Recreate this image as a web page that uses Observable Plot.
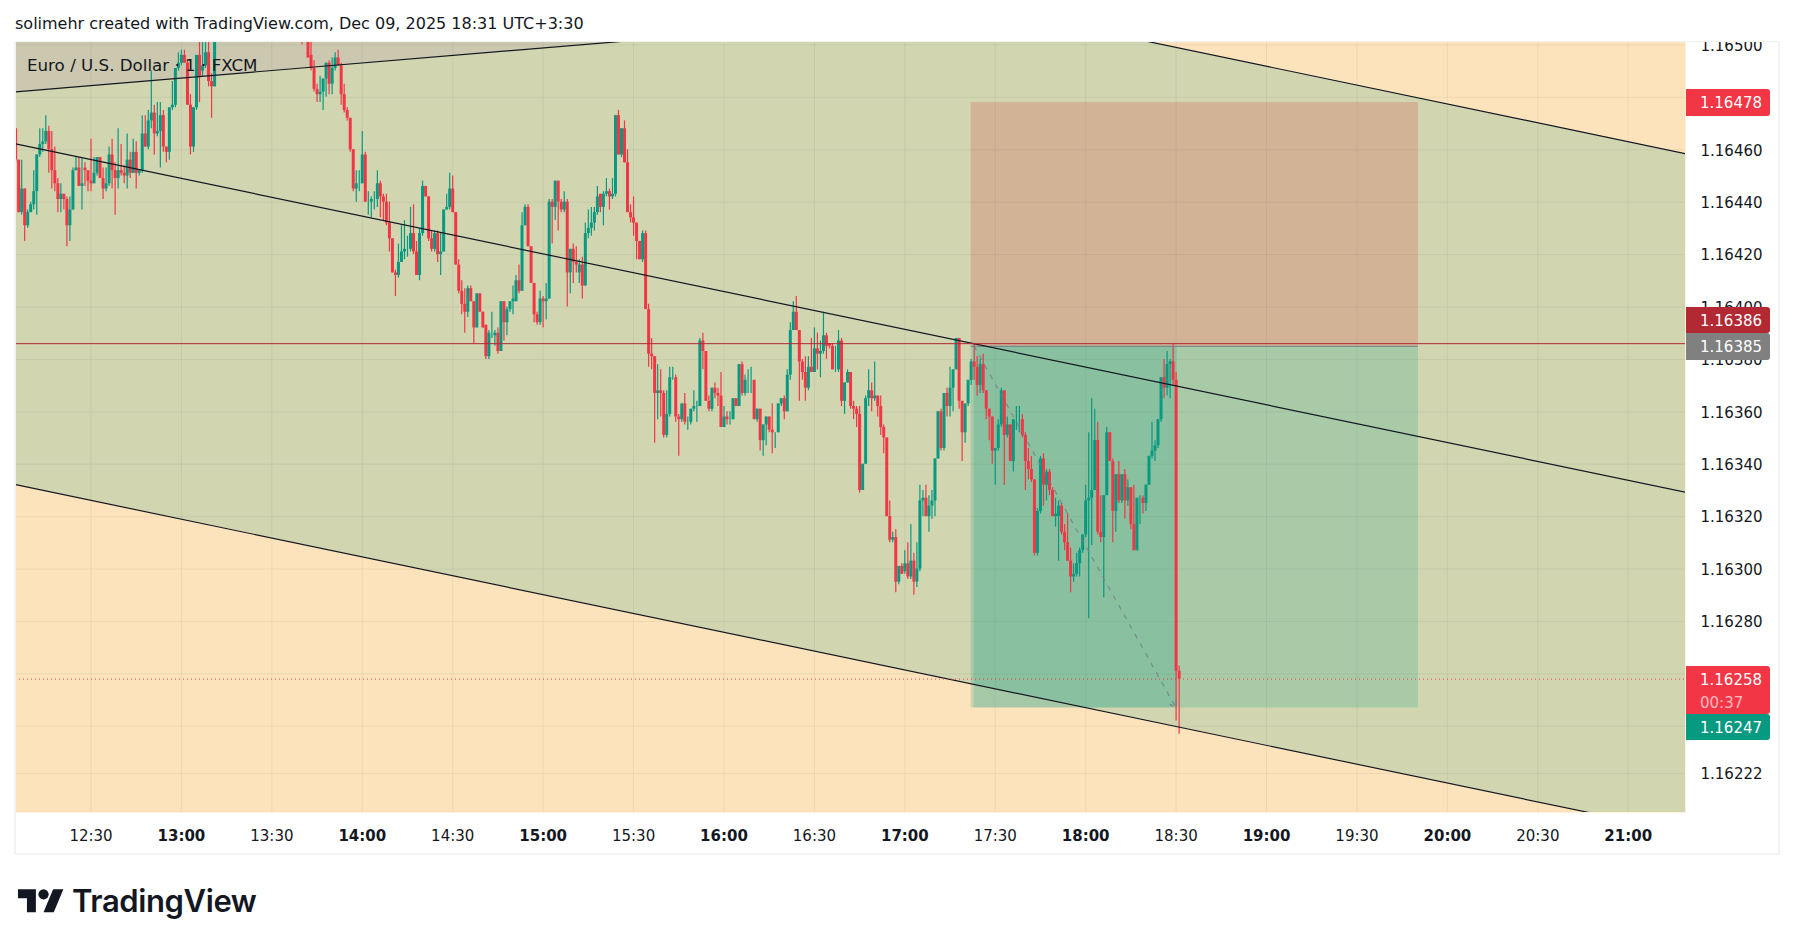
<!DOCTYPE html>
<html>
<head>
<meta charset="utf-8">
<script src="https://cdn.jsdelivr.net/npm/d3@7"></script>
<script src="https://cdn.jsdelivr.net/npm/@observablehq/plot@0.6"></script>
<style>
html,body{margin:0;padding:0;background:#fff;width:1793px;height:944px;overflow:hidden;font-family:"DejaVu Sans",sans-serif;color:#131722}
#chart{position:absolute;left:0;top:0}
#head{position:absolute;left:0;top:0;width:1793px;height:41px;background:#fff;font-size:16px;line-height:47px;text-indent:15px;white-space:pre}
#frame{position:absolute;left:14px;top:41px;width:1762px;height:811px;border:2px solid #F2F3F5;border-top-width:1px;pointer-events:none}
#legend{position:absolute;left:27px;top:56px;font-size:16.7px;line-height:18px}
.tag{position:absolute;left:1686px;width:84px;border-radius:0 3px 3px 0;color:#fff;font-size:15px;line-height:29px;text-indent:14px}
.tag span{display:block;opacity:.65;line-height:16px}
#mark{position:absolute;left:18px;top:884px}
#word{position:absolute;left:72px;top:881px;font-family:Inter,sans-serif;font-weight:600;font-size:31px;line-height:40px;letter-spacing:-.4px;color:#131722}
</style>
</head>
<body>
<div id="chart"></div>
<div id="head">solimehr created with TradingView.com, Dec 09, 2025 18:31 UTC+3:30</div>
<div id="frame"></div>
<div id="legend">Euro / U.S. Dollar · 1 · FXCM</div>
<div id="tags"></div>
<svg id="mark" width="46" height="36" viewBox="0 0 36 28"><path fill="#131722" d="M14 22H7V11H0V4h14v18zM28 22h-8l7.5-18h8L28 22z"></path><circle fill="#131722" cx="20" cy="8" r="4"></circle></svg>
<div id="word">TradingView</div>
<script>
// Candles: [open, high, low, close] in 0.00001 above 1.16000, one bar per minute.
const bars1205 = [[468,468,455,456],[456,456,436,436],[436,456,435,445],[445,445,425,431],[431,437,430,436],[436,440,436,439],[439,452,437,444],[444,458,435,458],[458,468,457,462],[462,468,459,463],[463,473,462,467],[467,469,451,460],[460,467,445,452],[452,461,444,447],[447,449,436,441],[441,447,436,443],[443,443,437,441],[441,442,423,431],[431,442,425,437],[437,453,437,452],[452,457,452,453],[453,457,446,446],[446,457,437,447],[453,455,446,452],[452,452,444,448],[448,464,444,447],[447,457,447,451],[451,457,450,457],[457,457,449,449],[449,453,441,445],[445,453,444,447],[447,461,446,458],[458,464,445,452],[452,455,435,449],[449,468,445,452],[452,462,450,451],[451,454,447,450],[450,466,445,456],[456,459,449,451],[451,464,451,459],[459,463,445,451],[451,452,450,452],[452,473,451,466],[466,473,461,461],[461,475,460,471],[471,490,468,474],[474,477,458,466],[466,478,465,467],[467,478,453,473],[473,475,459,461],[461,461,455,459],[459,476,456,476],[476,486,475,477],[477,491,476,491],[491,497,490,493],[493,498,492,496],[496,498,493,493],[493,494,477,477],[477,481,458,461],[461,476,459,476],[476,496,475,496],[496,505,478,488],[490,505,488,492],[492,505,491,497],[497,505,484,486],[486,489,472,484],[484,510,484,506]];
const bars1340 = [[506,510,500,504],[504,506,501,502],[502,503,495,495],[496,505,490,491],[491,494,482,483],[483,485,478,481],[481,488,478,482],[482,487,475,487],[487,493,480,493],[493,494,481,485],[485,495,481,491],[491,497,490,495],[495,498,492,492],[492,493,477,481],[481,485,474,475],[475,476,471,472],[472,472,459,460],[460,460,444,445],[445,452,440,447],[447,452,444,447],[447,467,447,458],[458,459,440,440],[440,444,435,440],[440,442,434,441],[441,444,437,441],[441,452,438,447],[447,448,434,442],[442,443,433,440],[440,443,431,432],[432,440,421,426],[426,426,413,413],[413,414,404,412],[412,424,411,417],[417,431,417,421],[421,433,418,422],[422,427,419,422],[422,438,421,428],[428,439,420,421],[421,425,412,412],[412,430,410,428],[428,448,427,446],[446,446,442,442],[442,442,425,426],[426,429,421,422],[422,429,421,428],[428,429,417,420],[420,428,412,421],[421,437,421,437],[437,443,437,438],[438,451,437,445],[445,450,436,436],[436,436,416,416],[416,418,405,406],[406,410,397,401],[401,407,390,398],[398,408,396,407],[407,408,402,402],[402,402,386,392],[392,405,392,405],[405,405,398,398],[398,398,392,392],[393,393,380,381],[381,391,380,390],[390,398,388,390],[389,391,385,390],[390,392,382,383],[383,402,383,402],[402,402,387,394],[394,400,389,399],[399,402,398,402],[402,408,397,403],[402,412,402,410],[410,416,405,406],[406,436,406,431],[431,439,431,438],[438,439,423,423],[423,423,409,409],[409,409,394,397],[397,398,393,394],[394,406,393,403],[403,404,392,402],[402,409,395,403],[403,441,403,440],[440,441,424,438],[438,448,433,448],[448,448,429,440],[440,441,436,437],[437,444,436,440],[440,441,400,413],[413,422,405,422],[422,424,409,417],[417,423,413,416],[413,418,409,416],[416,419,403,408],[408,432,408,428],[428,437,426,430],[430,438,427,432],[432,438,429,436],[436,446,435,442],[443,443,436,438]];
const bars1520 = [[438,444,431,443],[443,449,442,444],[444,445,437,442],[442,449,441,443],[443,473,442,473],[473,475,458,458],[458,468,457,468],[468,471,455,455],[455,460,436,436],[436,439,432,434],[434,442,427,432],[432,432,418,425],[425,425,418,418],[418,429,417,428],[428,429,399,399],[399,401,377,382],[382,388,376,381],[381,381,348,367],[367,378,357,368],[368,376,358,367],[367,368,350,351],[351,368,350,359],[359,377,358,373],[373,377,372,373],[373,374,356,358],[358,359,343,357],[357,363,356,363],[363,367,355,356],[356,358,353,356],[356,361,355,361],[361,368,360,362],[362,364,356,362],[362,388,362,387],[387,390,376,383],[383,383,364,364],[364,366,360,361],[361,369,360,369],[369,371,365,367],[367,369,362,366],[366,375,354,354],[354,362,354,358],[358,360,355,357],[357,360,355,357],[357,365,357,365],[365,365,362,362],[362,378,362,378],[378,379,366,367],[367,374,366,372],[372,376,367,372],[372,377,367,372],[372,372,357,357],[357,361,356,361],[361,361,345,349],[349,355,343,355],[355,358,347,358],[358,358,352,353],[353,363,344,352],[352,352,346,352],[352,363,352,363],[363,365,362,365],[365,366,357,360],[360,376,360,374],[374,394,372,391],[391,402,391,398],[398,404,391,391],[391,391,364,379],[379,380,372,375],[375,381,364,369],[369,381,368,377],[377,388,375,375],[375,392,375,384],[384,390,376,382],[382,387,373,383],[383,398,382,389],[389,390,380,385],[386,386,384,385],[385,386,376,376],[376,385,375,376],[376,391,375,387],[387,388,362,364],[364,371,359,371],[371,376,371,375],[375,375,361,362],[362,364,357,361],[361,362,354,359],[359,362,329,330],[330,340,330,340],[340,366,340,365],[365,376,362,368],[368,371,360,365],[365,379,364,366],[366,366,358,362],[362,366,351,354],[354,355,344,350],[350,350,320,320],[320,326,310,311],[311,314,310,312],[312,315,291,295],[295,301,294,301],[301,302,298,298]];
const bars1700 = [[299,307,298,302],[302,310,296,297],[297,317,296,303],[303,306,290,295],[295,310,293,300],[300,332,299,326],[326,330,320,327],[327,332,320,320],[320,328,314,324],[324,330,319,326],[326,342,320,342],[342,360,342,360],[360,361,345,346],[346,367,345,367],[367,369,358,362],[362,377,358,369],[369,376,360,376],[376,388,376,388],[388,388,361,364],[364,364,341,352],[352,363,348,363],[363,372,362,372],[372,380,370,379],[379,386,372,377],[377,381,366,370],[370,380,367,378],[378,382,367,368],[368,368,357,361],[361,361,349,358],[358,358,340,345],[345,346,332,346],[346,357,345,355],[355,369,354,368],[368,368,332,351],[351,358,350,355],[355,355,341,341],[341,357,337,357],[357,362,353,357],[357,362,352,357],[357,359,350,351],[351,352,330,341],[341,346,334,338],[338,343,333,334],[334,334,305,306],[306,323,305,322],[322,343,321,342],[342,344,324,332],[332,338,326,337],[337,338,328,330],[330,331,320,320],[320,327,316,321],[320,326,303,324],[324,325,313,314],[314,317,307,310],[310,321,303,303],[303,308,291,297],[297,302,295,298],[298,306,297,302],[302,308,297,307],[307,313,306,313],[313,332,312,326],[326,352,281,327],[327,365,309,330],[330,361,330,349],[349,356,313,314],[314,328,310,312],[312,328,289,328],[328,354,328,352],[352,352,341,341],[341,342,310,322],[322,336,314,336],[336,341,325,326],[326,336,325,336],[336,338,319,326],[326,334,324,331],[331,331,315,317],[317,332,307,307],[307,327,307,327],[327,328,317,327],[327,328,321,325],[325,332,322,332],[332,343,332,343],[343,356,342,345],[345,349,341,347],[347,357,346,357],[357,373,356,373],[373,380,365,369],[369,383,366,378],[378,380,365,379],[379,386,370,372],[372,375,242,261],[261,263,237,258]];
const barGroups = [[725,bars1205],[820,bars1340],[920,bars1520],[1020,bars1700]];

const halfHourTicks = [750,810,870,930,990,1050,1110,1170,1230];
const halfHourLabels = ["12:30","13:30","14:30","15:30","16:30","17:30","18:30","19:30","20:30"];
const hourTicks = [780,840,900,960,1020,1080,1140,1200,1260];
const hourLabels = ["13:00","14:00","15:00","16:00","17:00","18:00","19:00","20:00","21:00"];
const priceLabels = [1.165,1.1646,1.1644,1.1642,1.164,1.1638,1.1636,1.1634,1.1632,1.163,1.1628,1.16222];
const gridOnlyPrices = [1.1648,1.1626,1.1624];

const channelMinutes = [725,1279];
const channelTop = [591.4,458.5];
const channelMid = [462.25,329.3];
const channelBottom = [332.2,199.4];
const risingMinutes = [725,1000];
const risingLine = [482.1,508.4];

const stopPrice = 478, entryPrice = 385, targetPrice = 247, lastPrice = 258, bidPrice = 386;
const toolStart = 1042, toolEnd = 1190.4, fillStart = 1043, fillEnd = 1110.3;

const tags = [
  {label:"1.16478",top:89,height:27,color:"#F23645"},
  {label:"1.16386",top:307,height:26,color:"#B22833"},
  {label:"1.16385",top:333,height:27,color:"#808080"},
  {label:"1.16258",top:666,height:48,color:"#F23645",sub:"00:37"},
  {label:"1.16247",top:714,height:26,color:"#089981"}
];

const price = p => 1.16 + p / 100000;
const candles = barGroups.flatMap(([start, rows]) => rows.map((r, i) => ({
  m: start + i, open: price(r[0]), high: price(r[1]), low: price(r[2]), close: price(r[3]),
  color: r[3] >= r[0] ? "#089981" : "#F23645"
})));
const channel = channelMinutes.map((m, i) => ({m, top: price(channelTop[i]), mid: price(channelMid[i]), bottom: price(channelBottom[i])}));
const rising = risingMinutes.map((m, i) => ({m, y: price(risingLine[i]), ceil: price(530)}));
const gridStyle = {stroke: "#2a2e39", strokeOpacity: 0.06, clip: true};
const fmtTime = (ticks, labels) => m => labels[ticks.indexOf(m)];

const svg = Plot.plot({
  width: 1793, height: 944,
  marginLeft: 15, marginRight: 108, marginTop: 41, marginBottom: 132,
  x: {type: "linear", domain: [724.95, 1279]},
  y: {type: "linear", domain: [1.162071, 1.165013]},
  style: {fontFamily: "'DejaVu Sans',sans-serif", fontSize: "15px", color: "#131722", background: "#fff"},
  marks: [
    Plot.frame({fill: "#FDE3BB", stroke: null}),
    Plot.areaY(channel, {x: "m", y1: "bottom", y2: "top", fill: "#D1D6B1", clip: true}),
    Plot.areaY(rising, {x: "m", y1: "y", y2: "ceil", fill: "#CBC8AF", clip: true}),
    Plot.ruleX(halfHourTicks.concat(hourTicks), gridStyle),
    Plot.ruleY(priceLabels.concat(gridOnlyPrices), gridStyle),
    Plot.rect([{a: toolStart, b: toolEnd, y1: price(entryPrice), y2: price(stopPrice)}], {x1: "a", x2: "b", y1: "y1", y2: "y2", fill: "#DB272F", fillOpacity: 0.2}),
    Plot.rect([{a: toolStart, b: toolEnd, y1: price(targetPrice), y2: price(entryPrice)}], {x1: "a", x2: "b", y1: "y1", y2: "y2", fill: "#089981", fillOpacity: 0.2}),
    Plot.rect([{a: fillStart, b: fillEnd, y1: price(targetPrice), y2: price(entryPrice)}], {x1: "a", x2: "b", y1: "y1", y2: "y2", fill: "#089981", fillOpacity: 0.2}),
    Plot.ruleX(candles, {x: "m", y1: "low", y2: "high", stroke: "color", strokeWidth: 1.2, clip: true}),
    Plot.ruleX(candles, {x: "m", y1: "open", y2: "close", stroke: "color", strokeWidth: 3, clip: true}),
    Plot.ruleY([price(entryPrice)], {x1: toolStart, x2: toolEnd, stroke: "#787B86", strokeWidth: 1}),
    Plot.arrow([{a: fillStart, b: fillEnd - 0.3, y1: price(entryPrice), y2: price(targetPrice)}], {x1: "a", x2: "b", y1: "y1", y2: "y2", stroke: "#787B86", strokeOpacity: 0.75, strokeWidth: 1.3, strokeDasharray: "4,7", headLength: 8, bend: 0}),
    Plot.line(channel, {x: "m", y: "top", stroke: "#131722", strokeWidth: 1.2, clip: true}),
    Plot.line(channel, {x: "m", y: "mid", stroke: "#131722", strokeWidth: 1.2, clip: true}),
    Plot.line(channel, {x: "m", y: "bottom", stroke: "#131722", strokeWidth: 1.2, clip: true}),
    Plot.line(rising, {x: "m", y: "y", stroke: "#131722", strokeWidth: 1.2, clip: true}),
    Plot.ruleY([price(bidPrice)], {stroke: "#B22833", strokeWidth: 1}),
    Plot.ruleY([price(lastPrice)], {stroke: "#F23645", strokeWidth: 1, strokeDasharray: "1,3"}),
    Plot.axisY({anchor: "right", ticks: priceLabels, tickSize: 0, tickPadding: 15, dy: 1, tickFormat: d3.format(".5f"), label: null, fill: "#131722", fontSize: 15}),
    Plot.axisX({anchor: "bottom", ticks: halfHourTicks, tickSize: 0, tickPadding: 18, tickFormat: fmtTime(halfHourTicks, halfHourLabels), label: null, fill: "#131722", fontSize: 15}),
    Plot.axisX({anchor: "bottom", ticks: hourTicks, tickSize: 0, tickPadding: 18, tickFormat: fmtTime(hourTicks, hourLabels), label: null, fill: "#131722", fontSize: 15, fontWeight: "bold"})
  ]
});
document.getElementById("chart").append(svg);

const holder = document.getElementById("tags");
for (const t of tags) {
  const el = document.createElement("div");
  el.className = "tag";
  el.style.top = t.top + "px";
  el.style.height = t.height + "px";
  el.style.background = t.color;
  el.textContent = t.label;
  if (t.sub) { const s = document.createElement("span"); s.textContent = t.sub; el.append(s); }
  holder.append(el);
}
</script>
</body>
</html>
